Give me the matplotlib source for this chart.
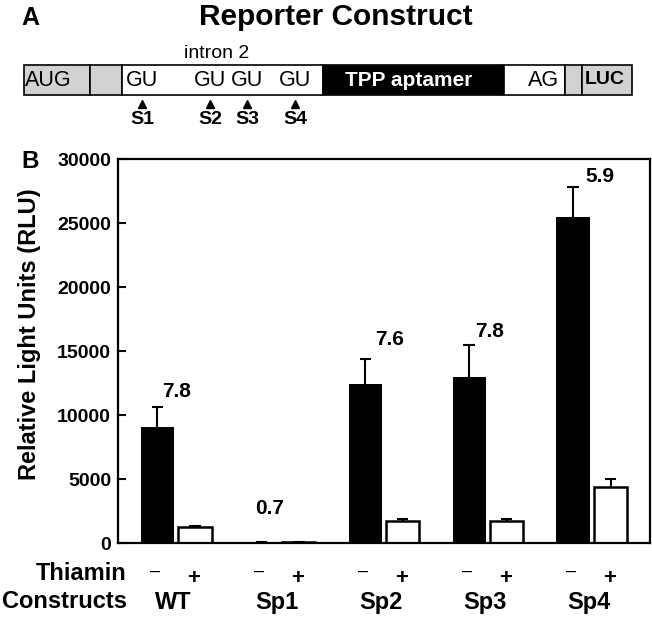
import numpy as np
import matplotlib
matplotlib.use("Agg")
import matplotlib.pyplot as plt
from matplotlib.patches import Rectangle

plt.rcParams["font.family"] = ["Liberation Sans", "DejaVu Sans"]

# data
constructs = ["WT", "Sp1", "Sp2", "Sp3", "Sp4"]
minus_thiamin = [9100, 40, 12450, 12950, 25450]
minus_err = [1500, 0, 1950, 2500, 2350]
plus_thiamin = [1250, 40, 1720, 1720, 4350]
plus_err = [100, 60, 130, 130, 650]
fold_labels = ["7.8", "0.7", "7.6", "7.8", "5.9"]

# reporter construct segments (pixel coords of the schematic)
seg_edges = [24, 90, 122, 323, 504, 565, 582, 632]
seg_colors = ["#d2d2d2", "#d2d2d2", "white", "black", "white", "#d2d2d2", "#d2d2d2"]
sites = ["S1", "S2", "S3", "S4"]
site_x = [142, 210, 247, 295]

W, H = 652, 619
fig = plt.figure(figsize=(W / 100, H / 100), dpi=100)

# overlay in pixel coordinates for panel A and side labels
ov = fig.add_axes([0, 0, 1, 1])
ov.set_xlim(0, W)
ov.set_ylim(H, 0)
ov.axis("off")

ov.text(21, 18, "A", fontsize=18, fontweight="bold", ha="left", va="center")
ov.text(336, 17, "Reporter Construct", fontsize=21.5, fontweight="bold",
        ha="center", va="center")
ov.text(217, 54, "intron 2", fontsize=14, ha="center", va="center")

for i in range(len(seg_colors)):
    ov.add_patch(Rectangle((seg_edges[i], 65), seg_edges[i + 1] - seg_edges[i], 30,
                           facecolor=seg_colors[i], edgecolor="black", lw=1.2))
ov.text(25, 81, "AUG", fontsize=15.5, ha="left", va="center")
for x in site_x:
    ov.text(x, 81, "GU", fontsize=15.5, ha="center", va="center")
ov.text(409, 80, "TPP aptamer", fontsize=15, fontweight="bold", color="white",
        ha="center", va="center")
ov.text(559, 81, "AG", fontsize=15.5, ha="right", va="center")
ov.text(585, 80, "LUC", fontsize=14, fontweight="bold", ha="left", va="center")

ov.plot(site_x, [104] * len(site_x), "^", color="black", markersize=6)
for x, s in zip(site_x, sites):
    ov.text(x, 120, s, fontsize=14, fontweight="bold", ha="center", va="center")

ov.text(21, 162, "B", fontsize=17.5, fontweight="bold", ha="left", va="center")
ov.text(127, 573, "Thiamin", fontsize=17, fontweight="bold", ha="right", va="center")
ov.text(127, 602, "Constructs", fontsize=17, fontweight="bold", ha="right", va="center")
ov.text(30, 334, "Relative Light Units (RLU)", fontsize=17, fontweight="bold",
        rotation=90, ha="center", va="center")

# panel B bar chart
ax = fig.add_axes([118 / W, (H - 543) / H, (650 - 118) / W, (543 - 159) / H])
x = np.arange(len(constructs))
w = 0.32
off = 0.18
cap = 0.055
ax.bar(x - off, minus_thiamin, w, color="black", lw=0, zorder=2)
ax.bar(x + off, plus_thiamin, w, color="white", edgecolor="black", lw=1.8, zorder=2)

# upward-only error bars
for xs, vals, errs in [(x - off, minus_thiamin, minus_err), (x + off, plus_thiamin, plus_err)]:
    tops = np.array(vals) + np.array(errs)
    ax.vlines(xs, vals, tops, color="black", lw=1.5, zorder=3)
    ax.hlines(tops, xs - cap, xs + cap, color="black", lw=1.5, zorder=3)

# fold-change labels
lab_y = [11800, 2700, 15900, 16500, 28600]
lab_dx = [0.0, -0.1, 0.05, 0.02, 0.08]
for xi, t, yy, dx in zip(x, fold_labels, lab_y, lab_dx):
    ax.text(xi + dx, yy, t, fontsize=15, fontweight="bold", ha="center", va="center")

ax.set_xlim(-0.56, 4.56)
ax.set_ylim(0, 30000)
ax.set_yticks([0, 5000, 10000, 15000, 20000, 25000, 30000])
ax.set_xticks([])
ax.tick_params(axis="y", direction="in", length=6, width=1.5, labelsize=14, pad=5)
for lbl in ax.get_yticklabels():
    lbl.set_fontweight("bold")
for sp in ax.spines.values():
    sp.set_linewidth(1.6)

# thiamin -/+ and construct names under the axis
tr = ax.get_xaxis_transform()
for xi, name in zip(x, constructs):
    ax.text(xi - 0.2, -0.075, "\u2013", fontsize=13, ha="center", va="center",
            transform=tr, clip_on=False)
    ax.text(xi + 0.17, -0.093, "+", fontsize=16, fontweight="bold", ha="center",
            va="center", transform=tr, clip_on=False)
    ax.text(xi - 0.03, -0.154, name, fontsize=17, fontweight="bold", ha="center",
            va="center", transform=tr, clip_on=False)

fig.savefig("out.png", dpi=100)
